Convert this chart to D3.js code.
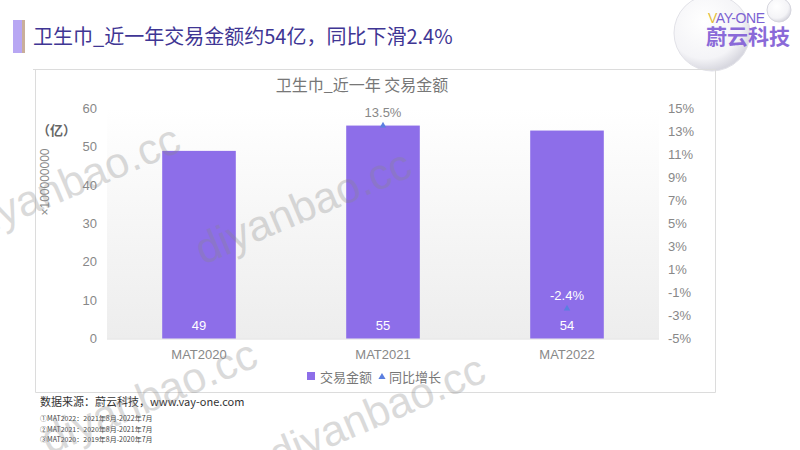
<!DOCTYPE html>
<html>
  <head>
    <meta charset='utf-8'>
    <title>卫生巾_近一年交易金额</title>
    <script src='https://d3js.org/d3.v7.min.js'></script>
    <style>
      body { margin: 0; background: #fff; }
      text { font-family: 'Liberation Sans', 'Noto Sans CJK SC', sans-serif; }
    </style>
  </head>

  <body>
    <div id='grafico'></div>
    <script>
    // Datos
    const categorias = ['MAT2020', 'MAT2021', 'MAT2022'];
    const importes   = [48.9, 55.5, 54.2];      // 亿
    const etiquetas  = ['49', '55', '54'];
    const crecimiento = [null, 13.5, -2.4];     // %
    const ticksIzq   = [0, 10, 20, 30, 40, 50, 60];
    const ticksDer   = [-5, -3, -1, 1, 3, 5, 7, 9, 11, 13, 15];
    const notas = ['①MAT2022：2021年8月-2022年7月',
                   '②MAT2021：2020年8月-2021年7月',
                   '③MAT2020：2019年8月-2020年7月'];

    const W = 800, H = 450;
    const morado = '#8d6ee9';

    const svg = d3.select('#grafico').append('svg')
                  .attr('width', W)
                  .attr('height', H);

    const defs = svg.append('defs');
    const grad = defs.append('linearGradient').attr('id', 'fondo')
      .attr('x1', 0).attr('y1', 0).attr('x2', 0).attr('y2', 1);
    grad.append('stop').attr('offset', '0%').attr('stop-color', '#ffffff');
    grad.append('stop').attr('offset', '100%').attr('stop-color', '#ededed');

    const burbuja = defs.append('radialGradient').attr('id', 'burbuja')
      .attr('cx', '40%').attr('cy', '35%').attr('r', '65%');
    burbuja.append('stop').attr('offset', '0%').attr('stop-color', '#ffffff');
    burbuja.append('stop').attr('offset', '75%').attr('stop-color', '#f4f4f7');
    burbuja.append('stop').attr('offset', '100%').attr('stop-color', '#d8d8e0');

    // Cabecera
    svg.append('rect').attr('x', 13).attr('y', 20).attr('width', 9).attr('height', 33).attr('fill', '#b8a7f3');
    svg.append('rect').attr('x', 22).attr('y', 20).attr('width', 3).attr('height', 33).attr('fill', '#c9ae9a');
    svg.append('text').attr('x', 33).attr('y', 44)
      .style('font-family', "'Noto Sans CJK SC', sans-serif")
      .attr('font-size', 20).attr('fill', '#3f3694')
      .text('卫生巾_近一年交易金额约54亿，同比下滑2.4%');

    // Logo
    svg.append('circle').attr('cx', 712).attr('cy', 33).attr('r', 38)
      .attr('fill', 'url(#burbuja)').attr('stroke', '#e2e2e8');
    svg.append('circle').attr('cx', 779).attr('cy', 10).attr('r', 12)
      .attr('fill', 'url(#burbuja)').attr('stroke', '#d6d6de');
    svg.append('text').attr('x', 708).attr('y', 23).attr('font-size', 14)
      .attr('fill', '#7c62d2').attr('textLength', 57)
      .html('<tspan fill="#e3bd3a">V</tspan>AY-ONE');
    svg.append('text').attr('x', 706).attr('y', 44)
      .style('font-family', "'Noto Sans CJK SC', sans-serif")
      .attr('font-size', 21).attr('font-weight', 'bold').attr('fill', '#8a6ad8')
      .text('蔚云科技');

    // Marco del gráfico
    svg.append('path').attr('d', 'M33,69.5H715.5V392.5H35.5V69.5')
      .attr('fill', 'none').attr('stroke', '#dcdcdc');

    svg.append('text').attr('x', 362).attr('y', 91).attr('text-anchor', 'middle')
      .attr('font-size', 16).attr('fill', '#777')
      .style('font-family', "'Noto Sans CJK SC', sans-serif")
      .text('卫生巾_近一年 交易金额');

    // Escalas
    const x = d3.scaleBand().domain(categorias).range([107, 659]).paddingInner(0.6).paddingOuter(0.3);
    const y = d3.scaleLinear().domain([0, 60]).range([338.5, 108.3]);
    const y2 = d3.scaleLinear().domain([-5, 15]).range([338.5, 108.3]);

    // Fondo del área de trazado
    svg.append('rect').attr('x', 107).attr('y', y(60)).attr('width', 552).attr('height', y(0) - y(60))
      .attr('fill', 'url(#fondo)');
    svg.append('line').attr('x1', 107).attr('x2', 659).attr('y1', y(0) + 0.5).attr('y2', y(0) + 0.5)
      .attr('stroke', '#dedede');

    // Barras
    svg.selectAll('rect.barra')
      .data(importes).enter().append('rect')
      .attr('class', 'barra')
      .attr('x', (d, i) => x(categorias[i]))
      .attr('y', d => y(d))
      .attr('width', x.bandwidth())
      .attr('height', d => y(0) - y(d))
      .attr('fill', morado);

    svg.selectAll('text.valor')
      .data(etiquetas).enter().append('text')
      .attr('class', 'valor')
      .attr('x', (d, i) => x(categorias[i]) + x.bandwidth() / 2)
      .attr('y', 330)
      .attr('text-anchor', 'middle').attr('font-size', 13).attr('fill', '#fff')
      .text(d => d);

    // Crecimiento interanual (solo marcadores)
    const tri = d3.symbol().type(d3.symbolTriangle).size(18);
    const puntos = crecimiento.map((v, i) => ({ c: categorias[i], v })).filter(d => d.v !== null);
    svg.selectAll('path.marca')
      .data(puntos).enter().append('path')
      .attr('class', 'marca')
      .attr('d', tri)
      .attr('transform', d => 'translate(' + (x(d.c) + x.bandwidth() / 2) + ',' + y2(d.v) + ')')
      .attr('fill', '#5b7fe0');
    svg.selectAll('text.pct')
      .data(puntos).enter().append('text')
      .attr('class', 'pct')
      .attr('x', d => x(d.c) + x.bandwidth() / 2)
      .attr('y', d => y2(d.v) - 9)
      .attr('text-anchor', 'middle').attr('font-size', 13)
      .attr('fill', d => d.v < 0 ? '#fff' : '#888')
      .text(d => d.v.toFixed(1) + '%');

    // Ejes
    const ejeIzq = svg.append('g').attr('transform', 'translate(97,0)')
      .call(d3.axisLeft(y).tickValues(ticksIzq).tickSize(0).tickPadding(0));
    const ejeDer = svg.append('g').attr('transform', 'translate(668,0)')
      .call(d3.axisRight(y2).tickValues(ticksDer).tickSize(0).tickPadding(0).tickFormat(d => d + '%'));
    const ejeX = svg.append('g').attr('transform', 'translate(0,' + y(0) + ')')
      .call(d3.axisBottom(x).tickSize(0).tickPadding(11));
    [ejeIzq, ejeDer, ejeX].forEach(g => {
      g.select('.domain').remove();
      g.selectAll('text').attr('font-size', 13).attr('fill', '#888')
        .style('font-family', "'Liberation Sans', sans-serif");
    });

    svg.append('text').attr('x', 37).attr('y', 135)
      .style('font-family', "'Noto Sans CJK SC', sans-serif")
      .attr('font-size', 13).attr('fill', '#666').attr('font-weight', 'bold')
      .text('（亿）');
    svg.append('text').attr('transform', 'translate(49,182) rotate(-90)')
      .attr('text-anchor', 'middle').attr('font-size', 12).attr('fill', '#888')
      .text('×100000000');

    // Leyenda
    const ley = svg.append('g');
    ley.append('rect').attr('x', 307).attr('y', 372).attr('width', 8).attr('height', 8).attr('fill', morado);
    ley.append('text').attr('x', 320).attr('y', 382).attr('font-size', 13).attr('fill', '#777')
      .style('font-family', "'Noto Sans CJK SC', sans-serif").text('交易金额');
    ley.append('path').attr('d', d3.symbol().type(d3.symbolTriangle).size(22))
      .attr('transform', 'translate(382,377)').attr('fill', '#5b7fe0');
    ley.append('text').attr('x', 389).attr('y', 382).attr('font-size', 13).attr('fill', '#777')
      .style('font-family', "'Noto Sans CJK SC', sans-serif").text('同比增长');

    // Pie
    svg.append('text').attr('x', 40).attr('y', 406).attr('font-size', 11).attr('fill', '#333')
      .style('font-family', "'Noto Sans CJK SC', sans-serif")
      .text('数据来源：蔚云科技，www.vay-one.com');
    svg.selectAll('text.nota')
      .data(notas).enter().append('text')
      .attr('class', 'nota')
      .attr('x', 40).attr('y', (d, i) => 421 + i * 10.5)
      .attr('font-size', 7).attr('fill', '#444')
      .style('font-family', "'Noto Sans CJK SC', sans-serif")
      .text(d => d);

    // Marcas de agua
    const marcas = [[-28, 240], [203, 265], [49, 455], [277, 470]];
    svg.selectAll('text.agua')
      .data(marcas).enter().append('text')
      .attr('class', 'agua')
      .attr('transform', d => 'translate(' + d[0] + ',' + d[1] + ') rotate(-23)')
      .attr('font-size', 43).attr('fill', '#888').attr('opacity', 0.3)
      .text('diyanbao.cc');
    </script>
  </body>
</html>
